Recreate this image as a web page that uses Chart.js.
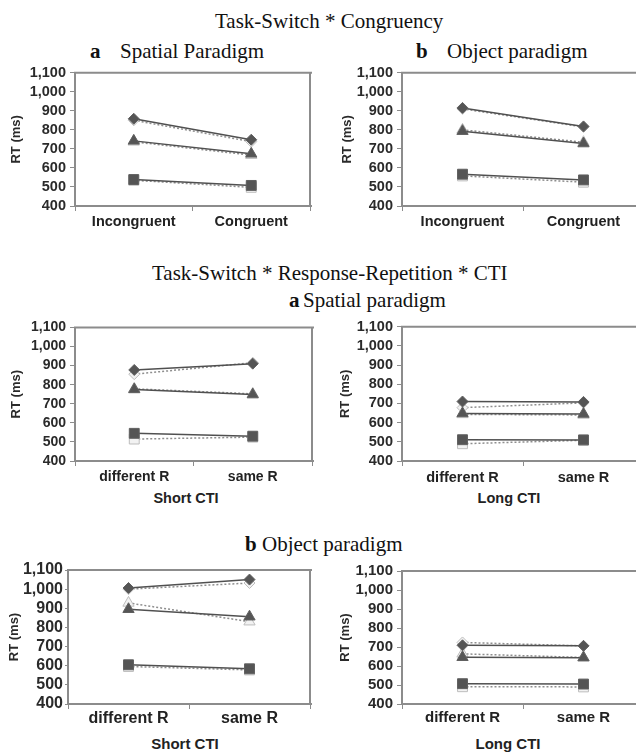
<!DOCTYPE html>
<html>
<head>
<meta charset="utf-8">
<script src="https://cdn.jsdelivr.net/npm/chart.js@4.4.0/dist/chart.umd.min.js"></script>
<style>
  body { margin: 0; width: 636px; height: 753px; overflow: hidden; background: #fff; position: relative; }
  .t { position: absolute; white-space: nowrap; font: 21px/21px "Liberation Serif", "Times New Roman", serif; color: #111; }
  .t b { font-weight: bold; }
  .cti { position: absolute; white-space: nowrap; font: bold 14.5px "Liberation Sans", Arial, sans-serif; color: #222; transform: translate(-50%, -50%); }
  .panel { position: absolute; }
</style>
</head>
<body>

<div class="t" style="left:215px;top:11px">Task-Switch * Congruency</div>
<div class="t" style="left:90px;top:41px"><b>a</b></div>
<div class="t" style="left:120px;top:41px">Spatial Paradigm</div>
<div class="t" style="left:416px;top:41px"><b>b</b></div>
<div class="t" style="left:447px;top:41px">Object paradigm</div>

<div class="t" style="left:152px;top:263px">Task-Switch * Response-Repetition * CTI</div>
<div class="t" style="left:289px;top:290px"><b>a</b></div>
<div class="t" style="left:303px;top:290px">Spatial paradigm</div>
<div class="t" style="left:245px;top:534px"><b>b</b></div>
<div class="t" style="left:262px;top:534px">Object paradigm</div>

<div class="cti" style="left:186px;top:498px">Short CTI</div>
<div class="cti" style="left:509px;top:498px">Long CTI</div>
<div class="cti" style="left:185px;top:743px;font-size:15px">Short CTI</div>
<div class="cti" style="left:508px;top:743px;font-size:15px">Long CTI</div>

<div class="panel" style="left:5px;top:60px"><canvas id="c1" width="313" height="178"></canvas></div>
<div class="panel" style="left:336px;top:60px"><canvas id="c2" width="316" height="178"></canvas></div>
<div class="panel" style="left:5px;top:315px"><canvas id="c3" width="315" height="174"></canvas></div>
<div class="panel" style="left:334px;top:314px"><canvas id="c4" width="318" height="175"></canvas></div>
<div class="panel" style="left:3px;top:558px"><canvas id="c5" width="315" height="176"></canvas></div>
<div class="panel" style="left:334px;top:558px"><canvas id="c6" width="318" height="176"></canvas></div>

<script>
// ---- data ----
const congruencyCategories = ['Incongruent', 'Congruent'];
const responseCategories = ['different R', 'same R'];
const yMin = 400;
const yMax = 1100;
const yStep = 100;

// Task-Switch * Congruency, spatial paradigm
const spatCongDiamond = [858, 748];
const spatCongTriangle = [742, 674];
const spatCongSquare = [539, 508];
const spatCongDiamondDot = [850, 738];
const spatCongTriangleDot = [737, 667];
const spatCongSquareDot = [535, 498];

// Task-Switch * Congruency, object paradigm
const objCongDiamond = [915, 818];
const objCongTriangle = [793, 728];
const objCongSquare = [567, 537];
const objCongDiamondDot = [910, 815];
const objCongTriangleDot = [800, 735];
const objCongSquareDot = [558, 525];

// Response-Repetition, spatial, short CTI
const spatShortDiamond = [877, 910];
const spatShortTriangle = [775, 748];
const spatShortSquare = [545, 530];
const spatShortDiamondDot = [855, 915];
const spatShortTriangleDot = [778, 752];
const spatShortSquareDot = [515, 525];

// Response-Repetition, spatial, long CTI
const spatLongDiamond = [710, 708];
const spatLongTriangle = [648, 645];
const spatLongSquare = [511, 510];
const spatLongDiamondDot = [678, 703];
const spatLongTriangleDot = [643, 640];
const spatLongSquareDot = [490, 508];

// Response-Repetition, object, short CTI
const objShortDiamond = [1006, 1050];
const objShortTriangle = [895, 856];
const objShortSquare = [605, 584];
const objShortDiamondDot = [1000, 1032];
const objShortTriangleDot = [928, 830];
const objShortSquareDot = [596, 578];

// Response-Repetition, object, long CTI
const objLongDiamond = [709, 706];
const objLongTriangle = [646, 644];
const objLongSquare = [507, 505];
const objLongDiamondDot = [724, 706];
const objLongTriangleDot = [664, 645];
const objLongSquareDot = [491, 490];

// ---- panels ----
const panels = [
  { id: 'c1', labels: congruencyCategories, yWidth: 70, xHeight: 32, padTop: 12, padRight: 5, xPad: 2, yLen: 5, yPad: 4, fs: 14.5, openRight: false,
    series: [spatCongDiamond, spatCongTriangle, spatCongSquare, spatCongDiamondDot, spatCongTriangleDot, spatCongSquareDot] },
  { id: 'c2', labels: congruencyCategories, yWidth: 66, xHeight: 32, padTop: 12, padRight: 0, xPad: 2, yLen: 5, yPad: 4, fs: 14.5, openRight: true,
    series: [objCongDiamond, objCongTriangle, objCongSquare, objCongDiamondDot, objCongTriangleDot, objCongSquareDot] },
  { id: 'c3', labels: responseCategories, yWidth: 70, xHeight: 28, padTop: 12, padRight: 5, xPad: 3, yLen: 5, yPad: 4, fs: 14, openRight: false,
    series: [spatShortDiamond, spatShortTriangle, spatShortSquare, spatShortDiamondDot, spatShortTriangleDot, spatShortSquareDot] },
  { id: 'c4', labels: responseCategories, yWidth: 68, xHeight: 28, padTop: 12, padRight: 0, xPad: 3, yLen: 5, yPad: 4, fs: 14.5, openRight: true,
    series: [spatLongDiamond, spatLongTriangle, spatLongSquare, spatLongDiamondDot, spatLongTriangleDot, spatLongSquareDot] },
  { id: 'c5', labels: responseCategories, yWidth: 65, xHeight: 30, padTop: 12, padRight: 5, xPad: 0, yLen: 3, yPad: 2, fs: 16, openRight: false,
    series: [objShortDiamond, objShortTriangle, objShortSquare, objShortDiamondDot, objShortTriangleDot, objShortSquareDot] },
  { id: 'c6', labels: responseCategories, yWidth: 68, xHeight: 30, padTop: 12, padRight: 0, xPad: 0, yLen: 5, yPad: 4, fs: 15, openRight: true,
    series: [objLongDiamond, objLongTriangle, objLongSquare, objLongDiamondDot, objLongTriangleDot, objLongSquareDot] }
];

const markers = ['rectRot', 'triangle', 'rect'];
const markerSize = [5.5, 6.5, 7];
const sans = '"Liberation Sans", Arial, sans-serif';

// grey box around the plot area (right side left open on the cut-off panels)
const frame = {
  id: 'frame',
  beforeDatasetsDraw(chart, args, opts) {
    const { ctx, chartArea: a } = chart;
    ctx.save();
    ctx.strokeStyle = '#8c8c8c';
    ctx.lineWidth = 2;
    ctx.beginPath();
    ctx.moveTo(a.right + 2, a.top);
    ctx.lineTo(a.left, a.top);
    ctx.lineTo(a.left, a.bottom);
    ctx.lineTo(a.right + 2, a.bottom);
    if (!opts.openRight) {
      ctx.moveTo(a.right, a.top);
      ctx.lineTo(a.right, a.bottom);
    }
    ctx.stroke();
    ctx.restore();
  }
};

const makeDatasets = (series) => series.map((values, i) => {
  const dotted = i >= 3;
  const k = i % 3;
  return {
    data: values,
    borderColor: dotted ? '#8e8e8e' : '#505050',
    borderWidth: 1.5,
    borderDash: dotted ? [2, 2] : [],
    pointStyle: markers[k],
    pointRadius: markerSize[k],
    pointHoverRadius: markerSize[k],
    pointBackgroundColor: dotted ? '#f2f2f2' : '#555555',
    pointBorderColor: dotted ? '#bdbdbd' : '#606060',
    pointBorderWidth: 1,
    clip: false
  };
});

panels.forEach(p => {
  const tickFont = { family: sans, size: p.fs, weight: 'bold' };
  new Chart(document.getElementById(p.id), {
    type: 'line',
    data: { labels: p.labels, datasets: makeDatasets(p.series) },
    options: {
      responsive: false,
      devicePixelRatio: 1,
      animation: false,
      layout: { padding: { top: p.padTop, right: p.padRight, left: 0, bottom: 0 } },
      plugins: { legend: { display: false }, tooltip: { enabled: false }, frame: { openRight: p.openRight } },
      scales: {
        x: {
          offset: true,
          afterFit: s => { s.height = p.xHeight; },
          grid: { offset: true, drawOnChartArea: false, color: '#8c8c8c', tickLength: 5, tickWidth: 1 },
          border: { display: false },
          ticks: { font: tickFont, color: '#222', padding: p.xPad, maxRotation: 0 }
        },
        y: {
          min: yMin,
          max: yMax,
          afterFit: s => { s.width = p.yWidth; },
          grid: { drawOnChartArea: false, color: '#8c8c8c', tickLength: p.yLen },
          border: { display: false },
          ticks: { stepSize: yStep, autoSkip: false, font: tickFont, color: '#2a2a2a', padding: p.yPad },
          title: { display: true, text: 'RT (ms)', color: '#2a2a2a',
                   font: { family: sans, size: 13, weight: 'bold' },
                   padding: { top: 4, bottom: 4 } }
        }
      }
    },
    plugins: [frame]
  });
});
</script>
</body>
</html>
